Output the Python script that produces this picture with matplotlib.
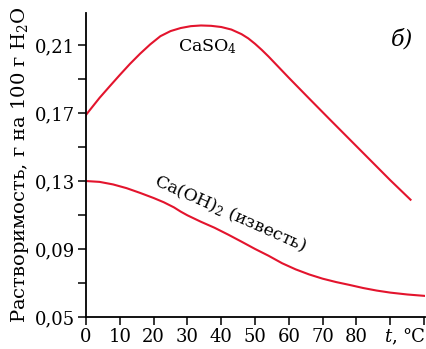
import matplotlib
matplotlib.use("Agg")
import matplotlib.pyplot as plt

plt.rcParams['font.family'] = ['DejaVu Serif']
plt.rcParams['mathtext.fontset'] = 'dejavuserif'

# solubility curves
t_caso4 = [0, 2, 4, 7, 10, 13, 16, 19, 22, 25, 28, 31, 34, 37, 40, 43, 46, 48, 50, 52,
           54, 60, 66, 72, 78, 84, 90, 96]
s_caso4 = [0.169, 0.174, 0.179, 0.1858, 0.1925, 0.199, 0.205, 0.2105, 0.2153, 0.2183,
           0.2201, 0.2212, 0.2216, 0.2214, 0.2207, 0.2192, 0.2165, 0.214, 0.2108, 0.2072,
           0.2033, 0.1908, 0.1786, 0.1665, 0.1545, 0.1425, 0.1305, 0.119]

t_caoh = [0, 4, 8, 12, 16, 20, 23, 26, 28, 30, 34, 38, 42, 46, 50, 54, 58, 62, 66, 70,
          74, 78, 82, 86, 90, 95, 100]
s_caoh = [0.130, 0.1295, 0.128, 0.1258, 0.123, 0.120, 0.1175, 0.1145, 0.112, 0.1098,
          0.106, 0.1025, 0.0985, 0.0943, 0.090, 0.086, 0.0816, 0.078, 0.075, 0.0725,
          0.0705, 0.0688, 0.067, 0.0655, 0.0643, 0.0632, 0.0624]

xticks = [0, 10, 20, 30, 40, 50, 60, 70, 80, 90, 100]
xlabels = ['0', '10', '20', '30', '40', '50', '60', '70', '80', '$t$,', '']
yticks = [0.05, 0.09, 0.13, 0.17, 0.21]
yminor = [0.07, 0.11, 0.15, 0.19]

red = '#e3142d'

fig = plt.figure(figsize=(4.26, 3.49), dpi=100)
ax = fig.add_axes([0.202, 0.092, 0.795, 0.871])

ax.plot(t_caso4, s_caso4, color=red, lw=1.5)
ax.plot(t_caoh, s_caoh, color=red, lw=1.5)

ax.set_xlim(0, 100.2)
ax.set_ylim(0.05, 0.229)
ax.set_xticks(xticks)
ax.set_xticklabels(xlabels)
ax.set_yticks(yticks)
ax.set_yticklabels([('%.2f' % v).replace('.', ',') for v in yticks])
ax.set_yticks(yminor, minor=True)

for s in ['top', 'right']:
    ax.spines[s].set_visible(False)
for s in ['left', 'bottom']:
    ax.spines[s].set_linewidth(1.3)
ax.tick_params(axis='both', which='both', direction='out', length=6, width=1.1,
               labelsize=13, pad=2)

# unit of the x axis sits under the last tick, kept inside the figure
ax.text(100.3, -0.035, '°C', transform=ax.get_xaxis_transform(), fontsize=13,
        ha='right', va='top')

ax.set_ylabel('Растворимость, г на 100 г H$_2$O', fontsize=14, labelpad=3)

ax.text(36, 0.209, 'CaSO$_4$', fontsize=12.5, ha='center', va='center')
ax.text(42.5, 0.111, 'Ca(OH)$_2$ (известь)', fontsize=12.5, ha='center', va='center',
        rotation=-24, rotation_mode='anchor')
ax.text(93.5, 0.2135, 'б)', fontsize=16, style='italic', ha='center', va='center')

fig.savefig('out.png', dpi=100)
